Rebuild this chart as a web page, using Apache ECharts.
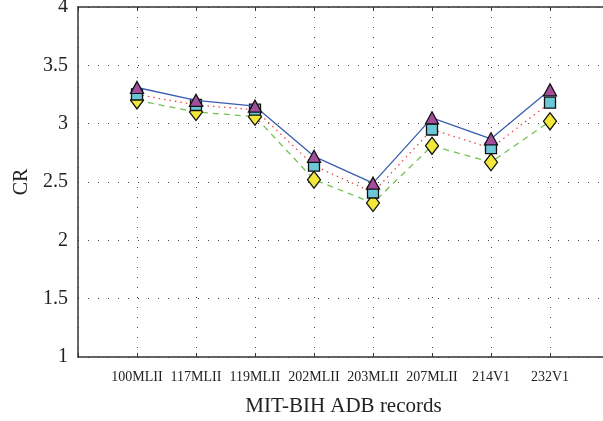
<!DOCTYPE html>
<html>
<head>
<meta charset="utf-8">
<script src="https://cdn.jsdelivr.net/npm/echarts@6/dist/echarts.min.js"></script>
<style>
  html, body { margin: 0; padding: 0; background: #fff; }
  #main { width: 603px; height: 421px; }
</style>
</head>
<body>
<div id="main"></div>
<script>
// records on the x axis
const records = ['100MLII', '117MLII', '119MLII', '202MLII', '203MLII', '207MLII', '214V1', '232V1'];
// CR values
const crTriangle = [3.31, 3.20, 3.15, 2.72, 2.49, 3.05, 2.87, 3.29];
const crSquare = [3.25, 3.16, 3.12, 2.64, 2.41, 2.95, 2.79, 3.18];
const crDiamond = [3.20, 3.10, 3.06, 2.52, 2.32, 2.81, 2.67, 3.02];
const yTicks = [1, 1.5, 2, 2.5, 3, 3.5, 4];

const FONT = 'Liberation Serif';

function toPoints(values) {
  return values.map((v, i) => [i + 1, v]);
}

const myChart = echarts.init(document.getElementById('main'));

const dotted = { color: '#444', width: 1, type: [1, 9] };

const option = {
  animation: false,
  backgroundColor: '#fff',
  grid: { left: 78, top: 7, right: -6, bottom: 64, outerBoundsMode: 'none' },
  xAxis: [
    {
      type: 'value',
      min: 0,
      max: 9,
      interval: 1,
      name: 'MIT-BIH ADB records',
      nameLocation: 'middle',
      nameGap: 39,
      nameTextStyle: { fontFamily: FONT, fontSize: 21, color: '#222' },
      axisLine: { onZero: false, lineStyle: { color: '#333', width: 1.5 } },
      axisTick: { inside: true, length: 4, lineStyle: { color: '#333' } },
      axisLabel: {
        margin: 13,
        fontFamily: FONT,
        fontSize: 14,
        color: '#222',
        formatter: v => records[v - 1] || ''
      },
      splitLine: { show: true, lineStyle: dotted }
    },
    {
      type: 'value',
      position: 'top',
      min: 0,
      max: 9,
      interval: 1,
      axisLine: { onZero: false, lineStyle: { color: '#333', width: 1.5 } },
      axisTick: { inside: true, length: 4, lineStyle: { color: '#333' } },
      axisLabel: { show: false },
      splitLine: { show: false }
    }
  ],
  yAxis: {
    type: 'value',
    min: yTicks[0],
    max: yTicks[yTicks.length - 1],
    interval: 0.5,
    name: 'CR',
    nameLocation: 'middle',
    nameGap: 46,
    nameTextStyle: { fontFamily: FONT, fontSize: 20, color: '#222' },
    axisLine: { show: true, onZero: false, lineStyle: { color: '#333', width: 1.5 } },
    axisTick: { show: false },
    axisLabel: { margin: 10, fontFamily: FONT, fontSize: 20, color: '#222' },
    splitLine: { show: true, lineStyle: dotted }
  },
  series: [
    {
      type: 'line',
      data: toPoints(crDiamond),
      symbol: 'diamond',
      symbolSize: [13, 17],
      lineStyle: { color: '#74c050', width: 1.3, type: [6, 5] },
      itemStyle: { color: '#f2e837', borderColor: '#111', borderWidth: 1.3 },
      z: 2
    },
    {
      type: 'line',
      data: toPoints(crSquare),
      symbol: 'rect',
      symbolSize: [11, 11],
      lineStyle: { color: '#f04848', width: 1.3, type: [1.5, 4] },
      itemStyle: { color: '#6cc8d6', borderColor: '#111', borderWidth: 1.3 },
      z: 3
    },
    {
      type: 'line',
      data: toPoints(crTriangle),
      symbol: 'triangle',
      symbolSize: [13, 12],
      lineStyle: { color: '#3a5db0', width: 1.3 },
      itemStyle: { color: '#a24e9c', borderColor: '#111', borderWidth: 1.3 },
      z: 4
    }
  ]
};

myChart.setOption(option);
</script>
</body>
</html>
